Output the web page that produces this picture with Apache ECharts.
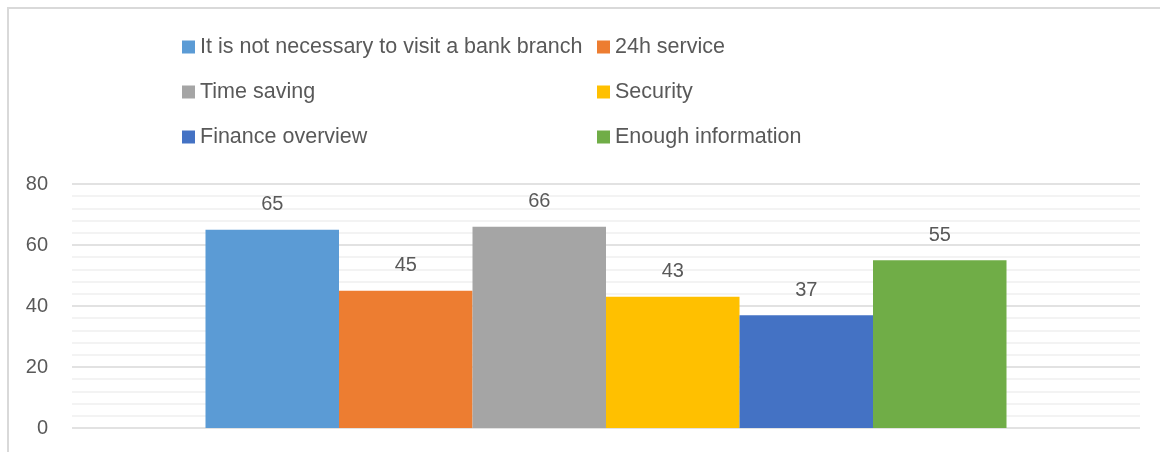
<!DOCTYPE html>
<html>
<head>
<meta charset="utf-8">
<script src="https://cdn.jsdelivr.net/npm/echarts@6/dist/echarts.min.js"></script>
<style>
  html, body { margin: 0; padding: 0; background: #fff; }
  #chart { width: 1160px; height: 452px; }
</style>
</head>
<body>
<div id="chart"></div>
<script>
// Reasons for using online banking (share of respondents)
const categories = [''];
const seriesNames = [
  'It is not necessary to visit a bank branch',
  '24h service',
  'Time saving',
  'Security',
  'Finance overview',
  'Enough information'
];
const seriesValues = [65, 45, 66, 43, 37, 55];
const seriesColors = ['#5B9BD5', '#ED7D31', '#A5A5A5', '#FFC000', '#4472C4', '#70AD47'];
const yTicks = [0, 20, 40, 60, 80];

const FONT = 'Liberation Sans';
const TEXT = '#595959';

// two-column legend, three rows
const legendCols = [182, 597];
const legendRows = [36, 81, 126];
const legends = seriesNames.map((name, i) => ({
  data: [name],
  left: legendCols[i % 2],
  top: legendRows[Math.floor(i / 2)],
  padding: 0,
  icon: 'rect',
  itemWidth: 13,
  itemHeight: 13,
  itemGap: 0,
  selectedMode: false,
  textStyle: { fontFamily: FONT, fontSize: 21.5, lineHeight: 22, color: TEXT }
}));

const chart = echarts.init(document.getElementById('chart'), null, { renderer: 'canvas' });
chart.setOption({
  animation: false,
  backgroundColor: '#fff',
  graphic: [{
    type: 'rect',
    shape: { x: 8, y: 8, width: 1200, height: 500 },
    style: { fill: 'none', stroke: '#d9d9d9', lineWidth: 2 },
    silent: true
  }],
  legend: legends,
  grid: { left: 72, right: 20, top: 184, bottom: 24 },
  xAxis: {
    type: 'category',
    data: categories,
    axisLine: { show: false },
    axisTick: { show: false },
    axisLabel: { show: false }
  },
  yAxis: {
    type: 'value',
    min: yTicks[0],
    max: yTicks[yTicks.length - 1],
    interval: 20,
    axisLine: { show: false },
    axisTick: { show: false },
    axisLabel: { fontFamily: FONT, fontSize: 20, color: TEXT, margin: 24 },
    splitLine: { lineStyle: { color: '#d9d9d9', width: 1.5 } },
    minorTick: { show: false, splitNumber: 5 },
    minorSplitLine: { show: true, lineStyle: { color: '#f0f0f0', width: 1.5 } }
  },
  series: seriesNames.map((name, i) => ({
    name,
    type: 'bar',
    barGap: '0%',
    barCategoryGap: '25%',
    itemStyle: { color: seriesColors[i] },
    label: {
      show: true,
      position: 'top',
      distance: 15,
      fontFamily: FONT,
      fontSize: 20,
      color: TEXT
    },
    data: [seriesValues[i]]
  }))
});
</script>
</body>
</html>
